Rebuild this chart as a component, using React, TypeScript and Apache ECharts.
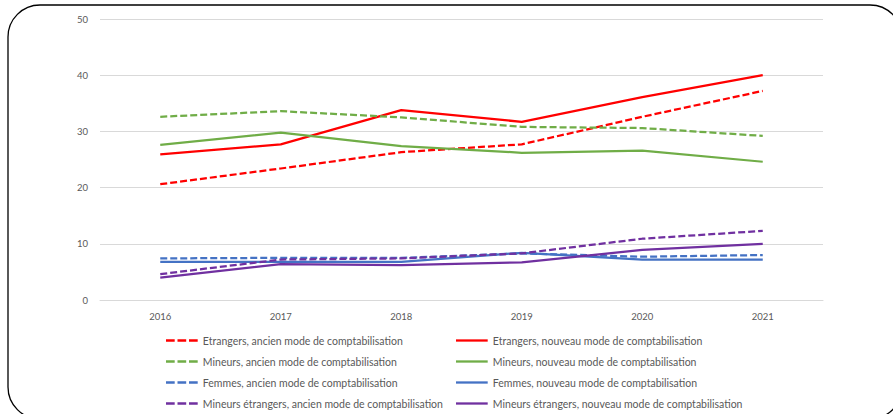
import React, { useEffect, useRef } from "react";
import * as echarts from "echarts";

const years = ["2016", "2017", "2018", "2019", "2020", "2021"];
const etrangersAncien = [20.6, 23.4, 26.3, 27.7, 32.6, 37.2];
const etrangersNouveau = [25.9, 27.7, 33.8, 31.7, 36.1, 40.0];
const mineursAncien = [32.6, 33.6, 32.5, 30.8, 30.6, 29.2];
const mineursNouveau = [27.6, 29.8, 27.4, 26.2, 26.6, 24.6];
const femmesAncien = [7.4, 7.5, 7.5, 8.3, 7.7, 8.0];
const femmesNouveau = [6.8, 6.8, 6.8, 8.4, 7.2, 7.2];
const mineursEtrAncien = [4.6, 7.2, 7.4, 8.3, 10.9, 12.3];
const mineursEtrNouveau = [4.0, 6.4, 6.2, 6.7, 8.9, 10.0];

const namesAncien = [
  "Etrangers, ancien mode de comptabilisation",
  "Mineurs, ancien mode de comptabilisation",
  "Femmes, ancien mode de comptabilisation",
  "Mineurs étrangers, ancien mode de comptabilisation",
];
const namesNouveau = [
  "Etrangers, nouveau mode de comptabilisation",
  "Mineurs, nouveau mode de comptabilisation",
  "Femmes, nouveau mode de comptabilisation",
  "Mineurs étrangers, nouveau mode de comptabilisation",
];
const colors = ["#FF0000", "#70AD47", "#4472C4", "#7030A0"];
const ancienData = [etrangersAncien, mineursAncien, femmesAncien, mineursEtrAncien];
const nouveauData = [etrangersNouveau, mineursNouveau, femmesNouveau, mineursEtrNouveau];

const FONT = "Lato";
const DASH_ICON = "path://M0,0h8.7v2.3h-8.7z M11.5,0h8.7v2.3h-8.7z M23,0h8.7v2.3h-8.7z";
const SOLID_ICON = "path://M0,0h31.7v2.3h-31.7z";

export default function App() {
  const ref = useRef<HTMLDivElement>(null);
  useEffect(() => {
    if (!ref.current) return;
    const chart = echarts.init(ref.current, null, { renderer: "svg" });
    const series: any[] = [];
    for (let i = 0; i < 4; i++) {
      series.push({
        name: namesAncien[i],
        type: "line",
        data: ancienData[i],
        symbol: "none",
        lineStyle: { color: colors[i], width: 2.25, type: [7, 3] },
        itemStyle: { color: colors[i] },
        z: 3,
      });
      series.push({
        name: namesNouveau[i],
        type: "line",
        data: nouveauData[i],
        symbol: "none",
        lineStyle: { color: colors[i], width: 2.25, type: "solid" },
        itemStyle: { color: colors[i] },
        z: 3,
      });
    }
    const legendBase = {
      orient: "vertical",
      top: 334,
      height: 80,
      padding: 0,
      itemWidth: 32,
      itemHeight: 2.3,
      itemGap: 8,
      textStyle: { color: "#595959", fontSize: 10.5, fontFamily: FONT, lineHeight: 13 },
      selectedMode: false,
    };
    chart.setOption({
      animation: false,
      textStyle: { fontFamily: FONT },
      grid: { left: 100, right: 70, top: 19, bottom: 114 },
      xAxis: {
        type: "category",
        data: years,
        boundaryGap: true,
        axisLine: { show: true, lineStyle: { color: "#D9D9D9", width: 1 } },
        axisTick: { show: false },
        axisLabel: { color: "#595959", fontSize: 9.5, margin: 11, fontFamily: FONT },
      },
      yAxis: {
        type: "value",
        min: 0,
        max: 50,
        interval: 10,
        axisLine: { show: false },
        axisTick: { show: false },
        axisLabel: { color: "#595959", fontSize: 9.5, margin: 12, fontFamily: FONT },
        splitLine: { lineStyle: { color: "#D9D9D9", width: 1 } },
      },
      legend: [
        {
          ...legendBase,
          left: 166,
          data: namesAncien.map((n) => ({ name: n, icon: DASH_ICON })),
        },
        {
          ...legendBase,
          left: 456,
          data: namesNouveau.map((n) => ({ name: n, icon: SOLID_ICON })),
        },
      ],
      graphic: [
        {
          type: "rect",
          z: -1,
          shape: { x: 8, y: 5, width: 894, height: 414, r: 32 },
          style: { fill: "none", stroke: "#000", lineWidth: 1.3 },
          silent: true,
        },
      ],
      series,
    });
    return () => chart.dispose();
  }, []);
  return (
    <div
      ref={ref}
      style={{ position: "fixed", left: 0, top: 0, width: 893, height: 414, background: "#fff" }}
    />
  );
}
